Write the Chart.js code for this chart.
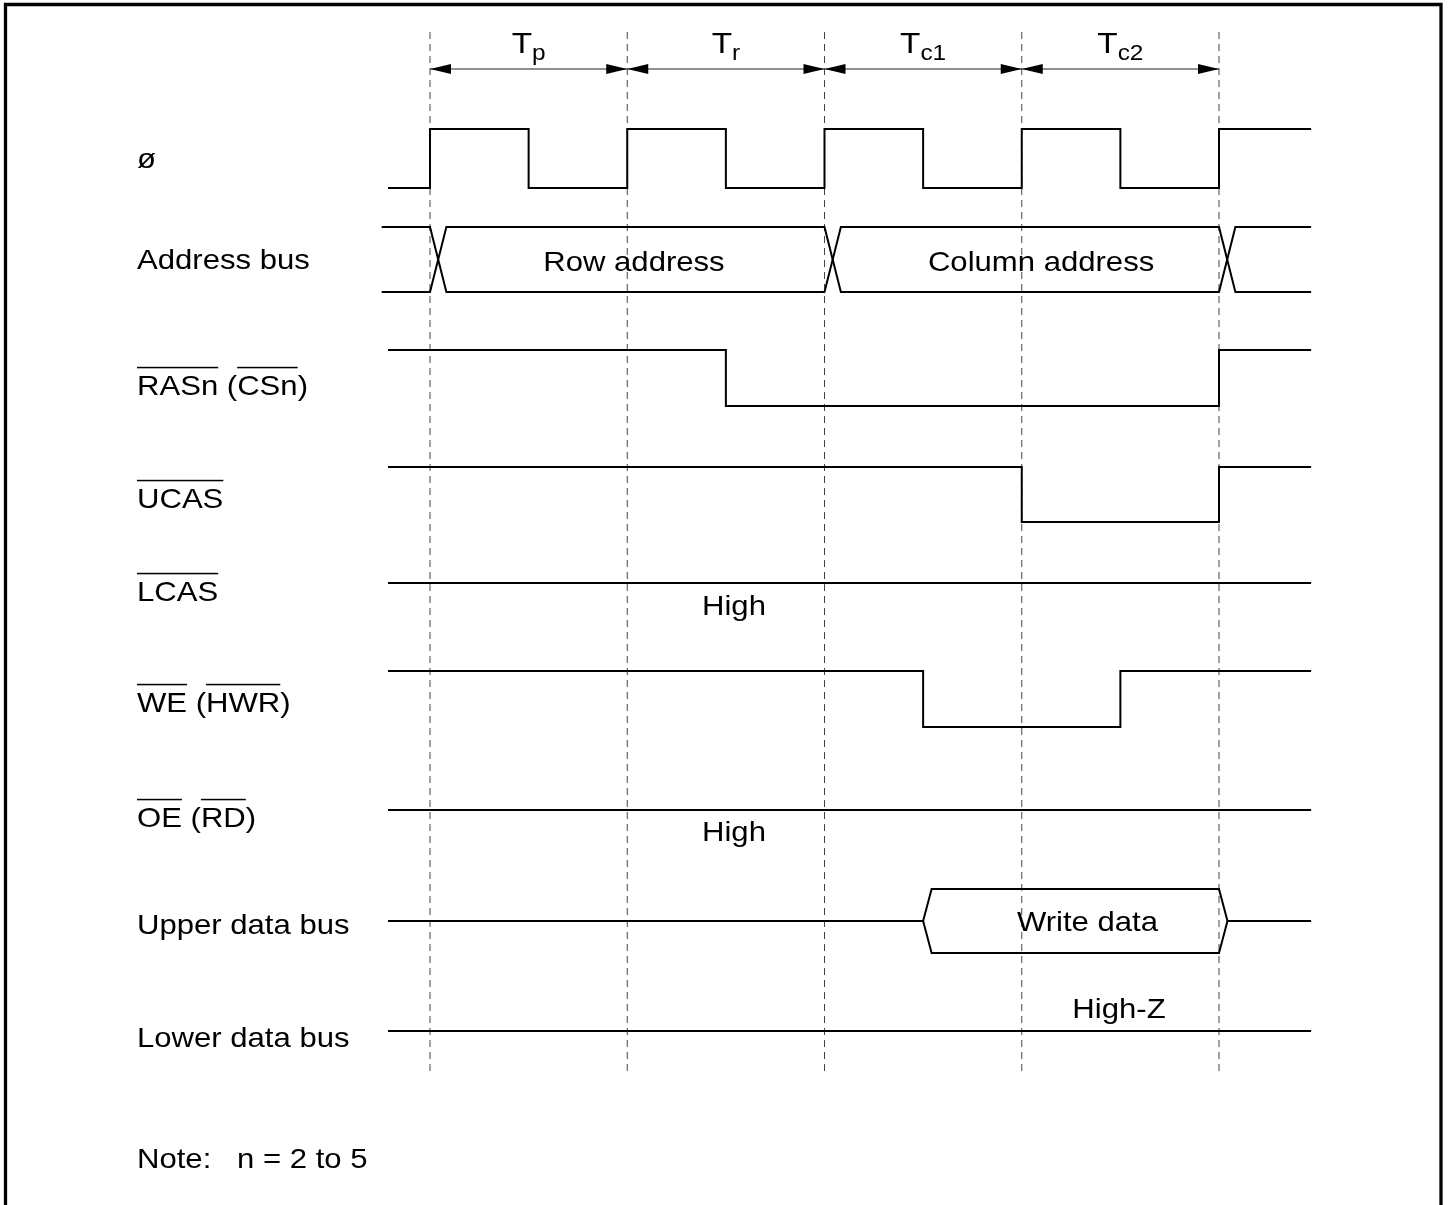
<!DOCTYPE html>
<html>
<head>
<meta charset="utf-8">
<title>DRAM write timing</title>
<script src="https://cdn.jsdelivr.net/npm/chart.js@4.4.0/dist/chart.umd.min.js"></script>
<style>
  body { margin: 0; background: #fff; }
  #wrap { width: 1450px; height: 1205px; position: relative; }
</style>
</head>
<body>
<div id="wrap"><canvas id="timing"></canvas></div>
<script>
// Bus states (T p, T r, T c1, T c2) and their boundaries, in clock states
const stateNames = ['p', 'r', 'c1', 'c2'];
const stateEdges = [0, 1, 2, 3, 4];

// Level signals: time of each point and level from there on (1 = high, 0 = low)
const phiTimes   = [-0.213, 0, 0.5, 1, 1.5, 2, 2.5, 3, 3.5, 4, 4.467];
const phiLevels  = [0, 1, 0, 1, 0, 1, 0, 1, 0, 1, 1];
const rasTimes   = [-0.213, 1.5, 4, 4.467];
const rasLevels  = [1, 0, 1, 1];
const ucasTimes  = [-0.213, 3, 4, 4.467];
const ucasLevels = [1, 0, 1, 1];
const lcasTimes  = [-0.213, 4.467];
const lcasLevels = [1, 1];
const weTimes    = [-0.213, 2.5, 3.5, 4.467];
const weLevels   = [1, 0, 1, 1];
const oeTimes    = [-0.213, 4.467];
const oeLevels   = [1, 1];

// Buses: start, change points, end
const addrTimes  = [-0.245, 0, 2, 4, 4.467];
const addrValues = ['', 'Row address', 'Column address', ''];
const upperTimes = [-0.213, 2.5, 4, 4.467];   // high-Z, write data, high-Z
const upperValues = ['', 'Write data', ''];
const lowerTimes = [-0.213, 4.467];

// Row labels (overbar parts marked with bar: true)
const rowLabels = [
  [{ t: 'ø' }],
  [{ t: 'Address bus' }],
  [{ t: 'RASn', bar: true }, { t: ' (' }, { t: 'CSn', bar: true }, { t: ')' }],
  [{ t: 'UCAS', bar: true }],
  [{ t: 'LCAS', bar: true }],
  [{ t: 'WE', bar: true }, { t: ' (' }, { t: 'HWR', bar: true }, { t: ')' }],
  [{ t: 'OE', bar: true }, { t: ' (' }, { t: 'RD', bar: true }, { t: ')' }],
  [{ t: 'Upper data bus' }],
  [{ t: 'Lower data bus' }]
];

// ---- layout (pixels) ----
const PX_PER_STATE = 197.25;
const T0_PX = 430;
const W = 1450, H = 1205;
const ROW = {            // [high y, low y]
  phi: [129, 188], addr: [227, 292], ras: [350, 406], ucas: [467, 522],
  lcas: [583, 583], we: [671, 727], oe: [810, 810], upper: [889, 953], lower: [1031, 1031]
};
const LABEL_X = 137;
const LABEL_BASE = [168, 269, 395, 508, 601, 712, 827, 934, 1047];
const FONT = '28px "Liberation Sans", Arial, sans-serif';
const T_FONT = '30px "Liberation Sans", Arial, sans-serif';
const SUB_FONT = '22px "Liberation Sans", Arial, sans-serif';
const STRETCH = 1.11;
const XCROSS = 0.083;    // bus crossing width, in states
const XHEX = 0.043;

function levelSeries(times, levels, row) {
  return times.map((t, i) => ({ x: t, y: levels[i] ? row[0] : row[1] }));
}

// two rails that swap at each change point: together they draw the bus and its X's
function busRails(times, row) {
  const a = [], b = [];
  let up = true;
  a.push({ x: times[0], y: row[0] });
  b.push({ x: times[0], y: row[1] });
  for (let i = 1; i < times.length - 1; i++) {
    const t = times[i];
    a.push({ x: t, y: up ? row[0] : row[1] });
    b.push({ x: t, y: up ? row[1] : row[0] });
    up = !up;
    a.push({ x: t + XCROSS, y: up ? row[0] : row[1] });
    b.push({ x: t + XCROSS, y: up ? row[1] : row[0] });
  }
  const e = times[times.length - 1];
  a.push({ x: e, y: up ? row[0] : row[1] });
  b.push({ x: e, y: up ? row[1] : row[0] });
  return [a, b];
}

// tri-state bus: middle line, hexagon where data is valid
function triRails(times, row) {
  const mid = (row[0] + row[1]) / 2;
  const s = times[1], e = times[2];
  const top = [
    { x: times[0], y: mid }, { x: s, y: mid }, { x: s + XHEX, y: row[0] },
    { x: e, y: row[0] }, { x: e + XHEX, y: mid }, { x: times[3], y: mid }
  ];
  const bot = [{ x: s, y: mid }, { x: s + XHEX, y: row[1] }, { x: e, y: row[1] }, { x: e + XHEX, y: mid }];
  return [top, bot];
}

function sig(data, stepped) {
  // 'before' in Chart.js: hold the previous level, then jump at the new point
  return { data, showLine: true, stepped: stepped ? 'before' : false, borderColor: '#000',
           borderWidth: 2, pointRadius: 0, clip: false, borderJoinStyle: 'miter' };
}

const datasets = [];
datasets.push(sig(levelSeries(phiTimes, phiLevels, ROW.phi), true));
busRails(addrTimes, ROW.addr).forEach(r => datasets.push(sig(r, false)));
datasets.push(sig(levelSeries(rasTimes, rasLevels, ROW.ras), true));
datasets.push(sig(levelSeries(ucasTimes, ucasLevels, ROW.ucas), true));
datasets.push(sig(levelSeries(lcasTimes, lcasLevels, ROW.lcas), true));
datasets.push(sig(levelSeries(weTimes, weLevels, ROW.we), true));
datasets.push(sig(levelSeries(oeTimes, oeLevels, ROW.oe), true));
triRails(upperTimes, ROW.upper).forEach(r => datasets.push(sig(r, false)));
datasets.push(sig(lowerTimes.map(t => ({ x: t, y: ROW.lower[0] })), false));

// dashed state boundaries
stateEdges.forEach(t => {
  datasets.push({ data: [{ x: t, y: 32 }, { x: t, y: 1073 }], showLine: true, borderColor: '#444',
                  borderWidth: 1, borderDash: [7, 5], pointRadius: 0, clip: false });
});
// arrow shafts
stateNames.forEach((n, i) => {
  datasets.push({ data: [{ x: stateEdges[i], y: 69 }, { x: stateEdges[i + 1], y: 69 }], showLine: true,
                  borderColor: '#222', borderWidth: 1, pointRadius: 0, clip: false });
});

function drawParts(ctx, parts, x, base, align) {
  ctx.font = FONT;
  const widths = parts.map(p => ctx.measureText(p.t).width);
  const total = widths.reduce((a, b) => a + b, 0) * STRETCH;
  let x0 = align === 'center' ? x - total / 2 : x;
  ctx.save();
  ctx.translate(x0, base);
  ctx.scale(STRETCH, 1);
  let cx = 0;
  parts.forEach((p, i) => {
    ctx.fillText(p.t, cx, 0);
    if (p.bar) {
      ctx.fillRect(cx, -28.2, widths[i], 1.5);
    }
    cx += widths[i];
  });
  ctx.restore();
}

const annotations = {
  id: 'annotations',
  afterDatasetsDraw(chart) {
    const ctx = chart.ctx;
    const xs = chart.scales.x, ys = chart.scales.y;
    ctx.save();
    ctx.fillStyle = '#000';
    ctx.textBaseline = 'alphabetic';
    ctx.textAlign = 'left';

    // frame (open at the bottom)
    ctx.strokeStyle = '#000';
    ctx.lineWidth = 3.3;
    ctx.beginPath();
    ctx.moveTo(5.5, H + 5);
    ctx.lineTo(5.5, 4.5);
    ctx.lineTo(1441, 4.5);
    ctx.lineTo(1441, H + 5);
    ctx.stroke();

    // arrow heads and state names
    const ay = ys.getPixelForValue(69);
    stateNames.forEach((n, i) => {
      const l = xs.getPixelForValue(stateEdges[i]);
      const r = xs.getPixelForValue(stateEdges[i + 1]);
      ctx.fillStyle = '#000';
      ctx.beginPath();
      ctx.moveTo(l, ay); ctx.lineTo(l + 21, ay - 5); ctx.lineTo(l + 21, ay + 5); ctx.closePath(); ctx.fill();
      ctx.beginPath();
      ctx.moveTo(r, ay); ctx.lineTo(r - 21, ay - 5); ctx.lineTo(r - 21, ay + 5); ctx.closePath(); ctx.fill();
      ctx.font = T_FONT;
      const wT = ctx.measureText('T').width;
      ctx.font = SUB_FONT;
      const wS = ctx.measureText(n).width;
      const start = (l + r) / 2 - (wT + wS) * STRETCH / 2;
      ctx.save();
      ctx.translate(start, ys.getPixelForValue(53));
      ctx.scale(STRETCH, 1);
      ctx.font = T_FONT;
      ctx.fillText('T', 0, 0);
      ctx.font = SUB_FONT;
      ctx.fillText(n, wT, 6.5);
      ctx.restore();
    });

    // row labels
    rowLabels.forEach((parts, i) => drawParts(ctx, parts, LABEL_X, ys.getPixelForValue(LABEL_BASE[i]), 'left'));

    // values inside buses and level notes
    drawParts(ctx, [{ t: addrValues[1] }], xs.getPixelForValue(1.034), ys.getPixelForValue(271), 'center');
    drawParts(ctx, [{ t: addrValues[2] }], xs.getPixelForValue(3.098), ys.getPixelForValue(271), 'center');
    drawParts(ctx, [{ t: upperValues[1] }], xs.getPixelForValue(3.333), ys.getPixelForValue(931), 'center');
    drawParts(ctx, [{ t: 'High' }], xs.getPixelForValue(1.541), ys.getPixelForValue(615), 'center');
    drawParts(ctx, [{ t: 'High' }], xs.getPixelForValue(1.541), ys.getPixelForValue(841), 'center');
    drawParts(ctx, [{ t: 'High-Z' }], xs.getPixelForValue(3.493), ys.getPixelForValue(1018), 'center');

    // note
    drawParts(ctx, [{ t: 'Note:' }], LABEL_X, ys.getPixelForValue(1168), 'left');
    drawParts(ctx, [{ t: 'n = 2 to 5' }], 237, ys.getPixelForValue(1168), 'left');
    ctx.restore();
  }
};

new Chart(document.getElementById('timing'), {
  type: 'scatter',
  data: { datasets },
  options: {
    responsive: true,
    maintainAspectRatio: false,
    animation: false,
    layout: { padding: 0 },
    events: [],
    plugins: { legend: { display: false }, tooltip: { enabled: false } },
    scales: {
      x: { type: 'linear', display: false, min: -T0_PX / PX_PER_STATE, max: (W - T0_PX) / PX_PER_STATE },
      y: { type: 'linear', display: false, min: 0, max: H, reverse: true }
    }
  },
  plugins: [annotations]
});
</script>
</body>
</html>
